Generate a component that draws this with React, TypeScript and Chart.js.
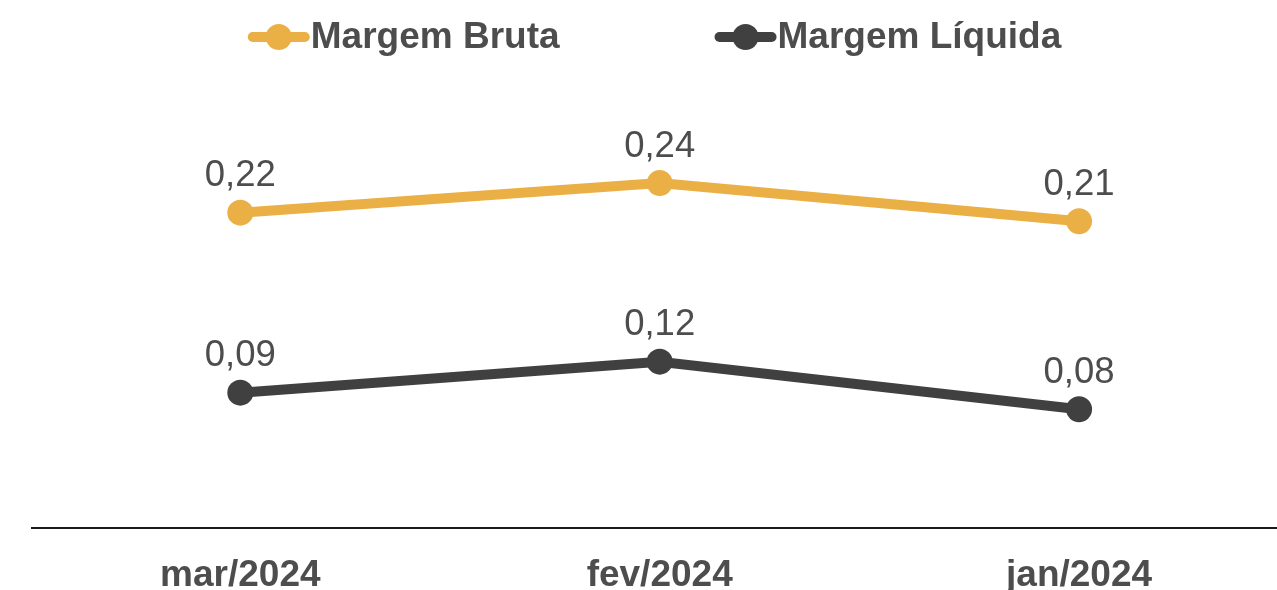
import React, { useEffect, useRef } from "react";
import { Chart, registerables } from "chart.js";

Chart.register(...registerables);

const categories = ["mar/2024", "fev/2024", "jan/2024"];
const margemBruta = [0.219, 0.2395, 0.213];
const margemLiquida = [0.094, 0.1155, 0.0825];
const seriesNames = ["Margem Bruta", "Margem Líquida"];
const seriesColors = ["#EBB045", "#404040"];

const FONT = "'Liberation Sans', Arial, sans-serif";
const TEXT = "#4d4d4d";

const fmt = (v: number) => v.toFixed(2).replace(".", ",");

const legendPlugin = {
  id: "customLegend",
  afterDraw(chart: any) {
    const ctx = chart.ctx;
    const area = chart.chartArea;
    ctx.save();
    ctx.font = `bold 37px ${FONT}`;
    const markerW = 62;
    const gapText = 1;
    const gapItems = 155;
    const items = chart.data.datasets.map((ds: any) => ({
      label: ds.label,
      color: ds.borderColor,
      w: markerW + gapText + ctx.measureText(ds.label).width,
    }));
    const total = items.reduce((s: number, it: any) => s + it.w, 0) + gapItems * (items.length - 1);
    let x = (area.left + area.right) / 2 - total / 2;
    const y = 37;
    for (const it of items) {
      ctx.strokeStyle = it.color;
      ctx.lineWidth = 10;
      ctx.lineCap = "round";
      ctx.beginPath();
      ctx.moveTo(x + 5, y);
      ctx.lineTo(x + markerW - 5, y);
      ctx.stroke();
      ctx.fillStyle = it.color;
      ctx.beginPath();
      ctx.arc(x + markerW / 2, y, 13, 0, Math.PI * 2);
      ctx.fill();
      ctx.fillStyle = TEXT;
      ctx.textAlign = "left";
      ctx.textBaseline = "middle";
      ctx.fillText(it.label, x + markerW + gapText, y + 1);
      x += it.w + gapItems;
    }
    ctx.restore();
  },
};

const dataLabelPlugin = {
  id: "dataLabels",
  afterDatasetsDraw(chart: any) {
    const ctx = chart.ctx;
    ctx.save();
    ctx.font = `36.5px ${FONT}`;
    ctx.fillStyle = TEXT;
    ctx.textAlign = "center";
    ctx.textBaseline = "alphabetic";
    chart.data.datasets.forEach((ds: any, i: number) => {
      const meta = chart.getDatasetMeta(i);
      meta.data.forEach((el: any, j: number) => {
        ctx.fillText(fmt(ds.data[j].y), el.x, el.y - 26.5);
      });
    });
    ctx.restore();
  },
};

export default function App() {
  const ref = useRef<HTMLCanvasElement | null>(null);

  useEffect(() => {
    document.body.style.margin = "0";
    if (!ref.current) return;
    const toPoints = (arr: number[]) => arr.map((v, i) => ({ x: i, y: v }));
    const chart = new Chart(ref.current, {
      type: "line",
      data: {
        datasets: [
          {
            label: seriesNames[0],
            data: toPoints(margemBruta),
            borderColor: seriesColors[0],
            backgroundColor: seriesColors[0],
            borderWidth: 10,
            pointRadius: 13,
            pointBorderWidth: 0,
            pointHoverRadius: 13,
            tension: 0,
          },
          {
            label: seriesNames[1],
            data: toPoints(margemLiquida),
            borderColor: seriesColors[1],
            backgroundColor: seriesColors[1],
            borderWidth: 10,
            pointRadius: 13,
            pointBorderWidth: 0,
            pointHoverRadius: 13,
            tension: 0,
          },
        ],
      },
      options: {
        responsive: false,
        animation: false,
        layout: { autoPadding: false, padding: { top: 96, left: 32, right: 0, bottom: 0 } },
        plugins: {
          legend: { display: false },
          tooltip: { enabled: false },
        },
        scales: {
          x: {
            type: "linear",
            min: -0.4967,
            max: 2.472,
            afterBuildTicks: (scale: any) => {
              scale.ticks = categories.map((_, i) => ({ value: i }));
            },
            afterFit: (scale: any) => {
              scale.height = 62;
            },
            grid: { display: false, drawTicks: false },
            border: { display: true, color: "#1a1a1a", width: 2 },
            ticks: {
              autoSkip: false,
              maxRotation: 0,
              padding: 26,
              color: TEXT,
              font: { family: FONT, size: 37, weight: "bold" },
              callback: (v: any) => categories[v as number] ?? "",
            },
          },
          y: {
            display: false,
            min: 0,
            max: 0.3,
          },
        },
      },
      plugins: [legendPlugin, dataLabelPlugin],
    } as any);
    return () => chart.destroy();
  }, []);

  return (
    <canvas
      ref={ref}
      width={1277}
      height={590}
      style={{ display: "block", width: 1277, height: 590 }}
    />
  );
}
